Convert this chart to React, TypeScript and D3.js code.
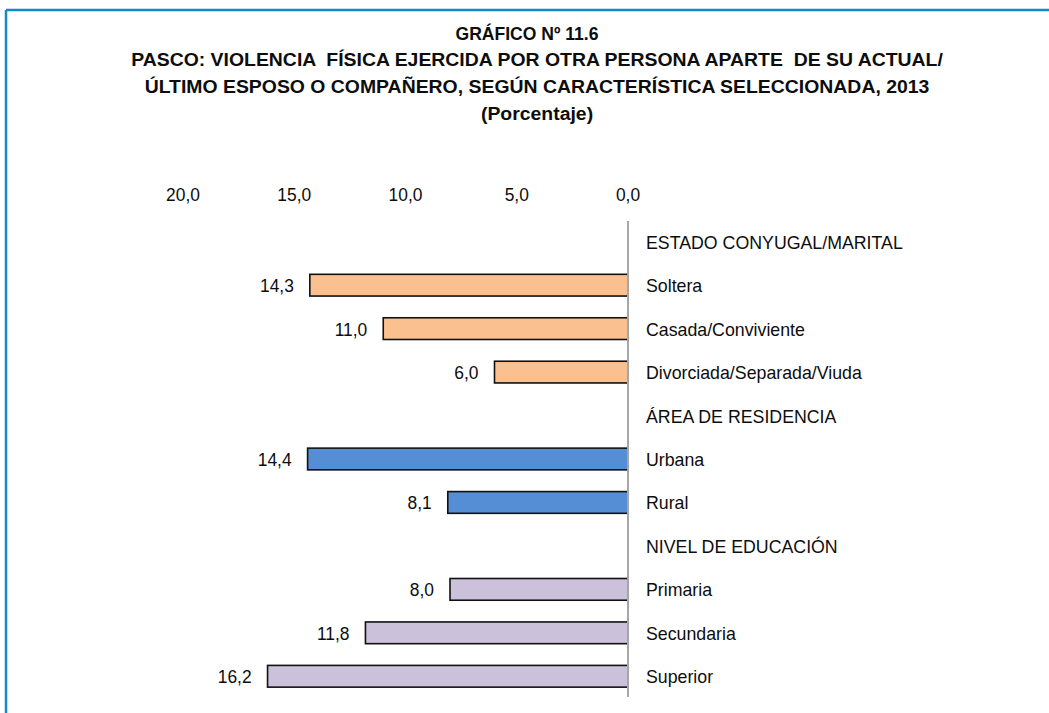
import React from "react";
import * as d3 from "d3";

const categories = [
  "ESTADO CONYUGAL/MARITAL",
  "Soltera",
  "Casada/Conviviente",
  "Divorciada/Separada/Viuda",
  "ÁREA DE RESIDENCIA",
  "Urbana",
  "Rural",
  "NIVEL DE EDUCACIÓN",
  "Primaria",
  "Secundaria",
  "Superior",
];
const values: (number | null)[] = [null, 14.3, 11.0, 6.0, null, 14.4, 8.1, null, 8.0, 11.8, 16.2];
const groups = ["", "estado", "estado", "estado", "", "area", "area", "", "edu", "edu", "edu"];
const tickValues = [20, 15, 10, 5, 0];
const titleLines = [
  "GRÁFICO Nº 11.6",
  "PASCO: VIOLENCIA  FÍSICA EJERCIDA POR OTRA PERSONA APARTE  DE SU ACTUAL/",
  "ÚLTIMO ESPOSO O COMPAÑERO, SEGÚN CARACTERÍSTICA SELECCIONADA, 2013",
  "(Porcentaje)",
];
const colors: Record<string, string> = { estado: "#FAC090", area: "#558ED5", edu: "#CCC1DA" };

const W = 1049;
const H = 713;
const FONT = "'Liberation Sans Narrow', 'Arial Narrow', 'Liberation Sans', Arial, sans-serif";

function SText(props: {
  x: number;
  y: number;
  sx: number;
  anchor?: "start" | "middle" | "end";
  size: number;
  bold?: boolean;
  children: React.ReactNode;
}) {
  const { x, y, sx, anchor = "start", size, bold, children } = props;
  return (
    <text
      transform={`translate(${x},${y}) scale(${sx},1)`}
      textAnchor={anchor}
      fontSize={size}
      fontWeight={bold ? "bold" : "normal"}
      fill="#0d0d0d"
      style={{ whiteSpace: "pre" }}
    >
      {children}
    </text>
  );
}

export default function App() {
  const x = d3.scaleLinear().domain([0, 20]).range([628, 183]);
  const y = d3
    .scaleBand<number>()
    .domain(d3.range(categories.length))
    .range([220, 698])
    .paddingInner(0.5)
    .paddingOuter(0.25);
  const fmt = (v: number) => v.toFixed(1).replace(".", ",");
  const mid = (i: number) => y(i)! + y.bandwidth() / 2;
  return (
    <div style={{ position: "absolute", left: 0, top: 0 }}>
      <svg width={W} height={H} style={{ display: "block", background: "#fff" }} fontFamily={FONT}>
        <rect x={0} y={0} width={W} height={H} fill="#fff" />
        <line x1={6} y1={10} x2={W} y2={10} stroke="#1289C9" strokeWidth={2.5} />
        <line x1={6} y1={10} x2={6} y2={H} stroke="#1289C9" strokeWidth={2.5} />
        {titleLines.map((t, i) => (
          <SText key={i} x={i === 0 ? 527 : 537} y={39.5 + i * 26.8} sx={i === 0 ? 0.95 : 1.05} anchor="middle" size={18.5} bold>
            {t}
          </SText>
        ))}
        {tickValues.map((t) => (
          <SText key={t} x={x(t)} y={201} sx={0.94} anchor="middle" size={18.5}>
            {fmt(t)}
          </SText>
        ))}
        {values.map((v, i) =>
          v == null ? null : (
            <g key={i}>
              <rect
                x={x(v)}
                y={y(i)!}
                width={x(0) - x(v)}
                height={y.bandwidth()}
                fill={colors[groups[i]]}
                stroke="#111"
                strokeWidth={1.6}
              />
              <SText x={x(v) - 16} y={mid(i) + 7} sx={0.94} anchor="end" size={18.5}>
                {fmt(v)}
              </SText>
            </g>
          )
        )}
        <line x1={x(0)} y1={221} x2={x(0)} y2={697} stroke="#A6A6A6" strokeWidth={2} />
        {categories.map((c, i) => (
          <SText key={c} x={646} y={mid(i) + 7} sx={0.96} size={18.5}>
            {c}
          </SText>
        ))}
      </svg>
    </div>
  );
}
